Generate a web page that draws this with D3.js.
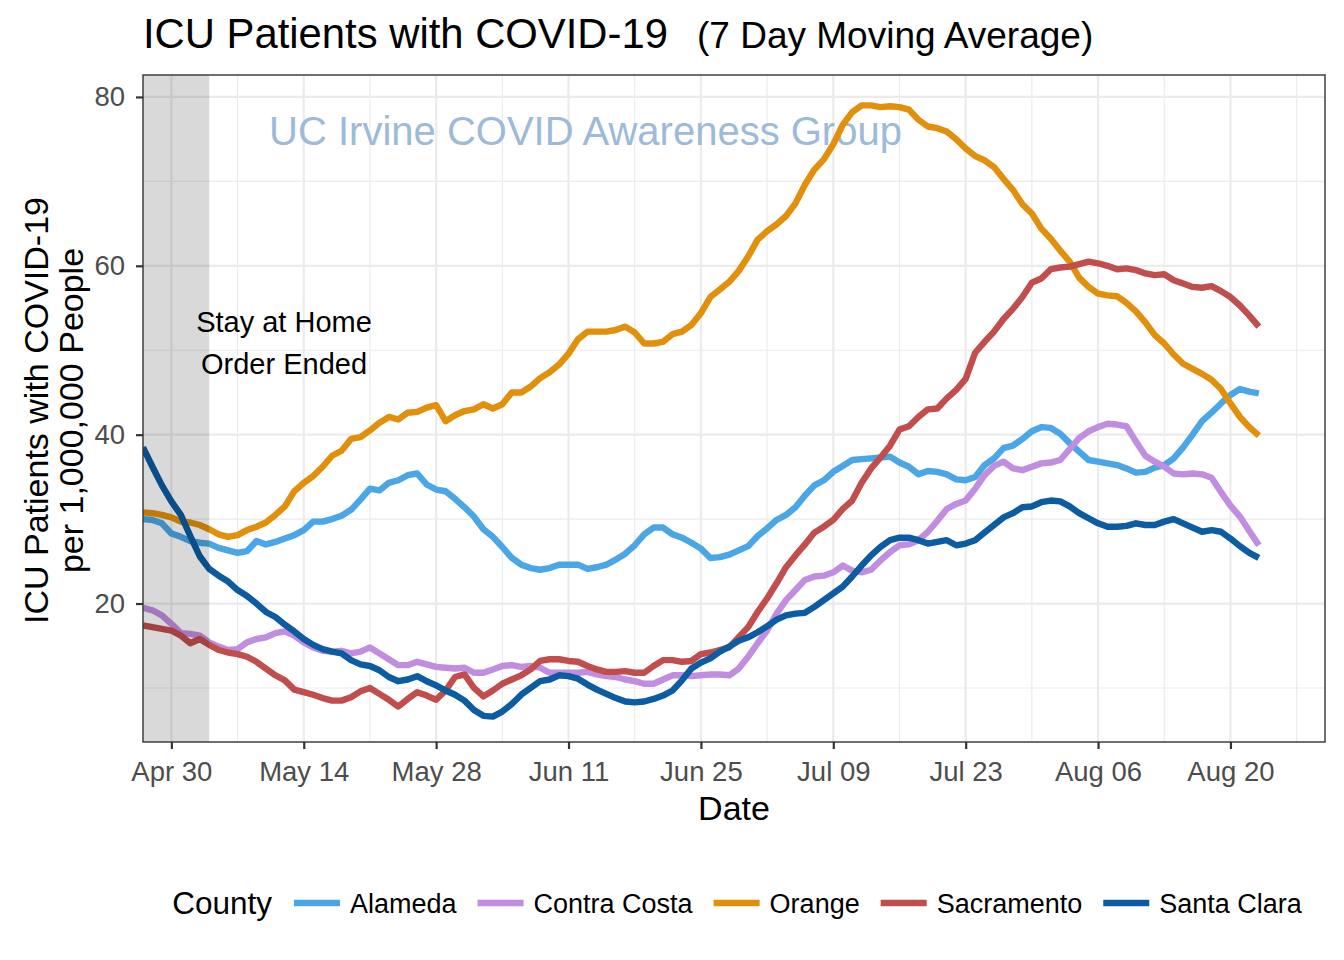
<!DOCTYPE html>
<html><head><meta charset="utf-8">
<script src="https://cdn.jsdelivr.net/npm/d3@7"></script>
<style>
body{margin:0;background:#fff}
svg{display:block}
text{font-family:"Liberation Sans",Arial,Helvetica,sans-serif}
</style>
</head><body>
<svg id="chart" width="1344" height="960"></svg>
<script>
// ---------------- data ----------------
const startDate = "2020-04-27";           // first day of every series (daily values)
const counties = ["Alameda", "Contra Costa", "Orange", "Sacramento", "Santa Clara"];
const countyColors = ["#4aa6e6", "#c08de0", "#e2900c", "#c14d4d", "#0b5ca2"];

const alameda = [30.0,29.9,29.5,28.3,27.9,27.4,27.2,27.1,26.6,26.3,26.0,26.2,27.4,27.0,27.3,27.7,28.1,28.7,29.7,29.7,
  30.0,30.4,31.1,32.3,33.6,33.4,34.3,34.6,35.2,35.4,34.1,33.5,33.3,32.4,31.4,30.3,28.8,27.9,26.7,25.4,
  24.6,24.2,24.0,24.2,24.6,24.6,24.6,24.1,24.3,24.6,25.2,25.9,26.9,28.2,29.0,29.0,28.2,27.8,27.2,26.5,
  25.4,25.5,25.8,26.3,26.8,28.0,28.9,29.9,30.5,31.4,32.8,34.0,34.6,35.6,36.3,37.0,37.1,37.2,37.3,37.4,
  36.7,36.2,35.3,35.7,35.6,35.3,34.7,34.6,35.0,36.4,37.2,38.4,38.7,39.5,40.4,40.9,40.8,40.1,39.0,38.0,
  37.0,36.8,36.6,36.4,36.0,35.5,35.6,36.1,36.4,37.2,38.5,40.0,41.6,42.6,43.7,44.7,45.4,45.1,44.9];

const contraCosta = [19.5,19.2,18.6,17.6,16.5,16.4,16.2,15.4,14.9,14.5,14.6,15.4,15.8,16.0,16.5,16.7,16.2,15.4,14.8,14.4,
  14.3,14.4,14.1,14.3,14.8,14.1,13.4,12.7,12.7,13.1,12.8,12.5,12.4,12.3,12.4,11.8,11.8,12.2,12.6,12.7,
  12.5,12.6,12.4,11.8,11.8,11.8,11.8,11.9,11.6,11.4,11.3,11.0,10.8,10.5,10.5,11.0,11.5,11.5,11.4,11.5,
  11.6,11.6,11.5,12.3,13.7,15.3,16.8,18.8,20.4,21.6,22.8,23.2,23.3,23.7,24.5,23.9,23.7,24.0,25.1,26.1,
  26.9,27.0,27.5,28.5,29.8,31.2,31.8,32.2,33.6,35.2,36.3,36.8,36.0,35.8,36.2,36.6,36.7,37.0,38.3,39.6,
  40.4,40.9,41.3,41.2,41.0,39.2,37.5,36.8,36.2,35.4,35.3,35.4,35.3,34.9,33.2,31.6,30.3,28.6,26.9];

const orange = [30.8,30.7,30.5,30.2,29.7,29.6,29.3,28.8,28.2,27.9,28.1,28.7,29.1,29.6,30.5,31.5,33.3,34.3,35.1,36.2,
  37.5,38.1,39.5,39.7,40.5,41.4,42.1,41.8,42.6,42.7,43.2,43.5,41.6,42.3,42.8,43.0,43.6,43.1,43.6,45.0,
  45.0,45.7,46.7,47.4,48.3,49.6,51.3,52.2,52.2,52.2,52.4,52.8,52.1,50.8,50.8,51.0,51.9,52.2,53.0,54.4,
  56.3,57.2,58.1,59.4,61.1,63.1,64.1,64.9,65.9,67.4,69.6,71.4,72.6,74.4,76.7,78.2,79.0,79.0,78.8,78.9,
  78.8,78.5,77.3,76.5,76.3,75.9,75.0,73.9,73.0,72.5,71.7,70.3,69.0,67.3,66.2,64.4,63.2,61.8,60.5,58.6,
  57.5,56.7,56.5,56.4,55.6,54.6,53.3,51.8,50.8,49.5,48.4,47.8,47.2,46.5,45.4,43.7,42.1,40.9,39.9];

const sacramento = [17.4,17.2,17.0,16.8,16.2,15.3,15.8,15.1,14.5,14.2,14.0,13.7,13.1,12.3,11.5,10.9,9.8,9.5,9.2,8.8,
  8.5,8.5,8.9,9.6,10.0,9.3,8.6,7.8,8.7,9.5,9.1,8.6,9.7,11.3,11.6,10.0,9.0,9.7,10.5,11.0,
  11.5,12.2,13.2,13.4,13.4,13.2,13.1,12.6,12.2,11.9,11.9,12.0,11.8,11.8,12.6,13.3,13.3,13.1,13.2,14.0,
  14.2,14.5,14.8,16.0,17.2,19.0,20.6,22.4,24.3,25.7,27.0,28.4,29.1,29.9,31.2,32.2,34.3,36.0,37.3,38.7,
  40.6,41.0,42.1,43.0,43.1,44.3,45.3,46.6,49.7,51.0,52.2,53.7,54.9,56.3,58.0,58.5,59.6,59.8,59.9,60.2,
  60.5,60.3,60.0,59.6,59.7,59.5,59.1,58.9,59.0,58.3,57.9,57.5,57.4,57.6,57.0,56.3,55.3,54.1,52.8];

const santaClara = [38.5,36.2,34.0,32.1,30.5,28.0,25.6,24.1,23.3,22.6,21.6,20.9,20.0,19.0,18.4,17.5,16.7,15.8,15.1,14.6,
  14.3,14.1,13.3,12.8,12.6,12.1,11.3,10.8,11.0,11.4,10.8,10.3,9.7,9.2,8.5,7.4,6.7,6.6,7.2,8.1,
  9.2,10.0,10.8,11.0,11.5,11.4,11.1,10.4,9.8,9.3,8.8,8.4,8.3,8.4,8.7,9.1,9.7,10.9,12.3,13.0,
  13.5,14.3,14.9,15.6,16.0,16.6,17.3,18.1,18.6,18.8,18.9,19.6,20.4,21.2,22.0,23.2,24.5,25.7,26.7,27.5,
  27.8,27.8,27.5,27.1,27.3,27.5,26.9,27.1,27.5,28.4,29.3,30.2,30.7,31.4,31.5,32.0,32.2,32.1,31.5,30.7,
  30.1,29.5,29.1,29.1,29.2,29.5,29.3,29.3,29.7,30.0,29.5,29.0,28.5,28.7,28.5,27.7,26.8,26.0,25.4];

const seriesValues = [alameda, contraCosta, orange, sacramento, santaClara];

const xMajorTicks = ["2020-04-30","2020-05-14","2020-05-28","2020-06-11","2020-06-25","2020-07-09","2020-07-23","2020-08-06","2020-08-20"];
const xMinorTicks = ["2020-05-07","2020-05-21","2020-06-04","2020-06-18","2020-07-02","2020-07-16","2020-07-30","2020-08-13","2020-08-27"];
const yMajorTicks = [20, 40, 60, 80];
const yMinorTicks = [10, 30, 50, 70];
const xDomain = ["2020-04-27", "2020-08-30"];
const yDomain = [3.6, 82.6];
const shadeRange = ["2020-04-27", "2020-05-04"];   // stay-at-home shading

const titleText = "ICU Patients with COVID-19";
const subtitleText = "(7 Day Moving Average)";
const watermarkText = "UC Irvine COVID Awareness Group";
const annotationLines = ["Stay at Home", "Order Ended"];
const yTitleLines = ["ICU Patients with COVID-19", "per 1,000,000 People"];

// ---------------- layout ----------------
const P = {left: 143, right: 1325, top: 75, bottom: 742};
const parse = d3.utcParse("%Y-%m-%d");
const svg = d3.select("#chart");

const x = d3.scaleUtc().domain(xDomain.map(parse)).range([P.left, P.right]);
const y = d3.scaleLinear().domain(yDomain).range([P.bottom, P.top]);

const start = parse(startDate);
const series = counties.map((name, i) => ({
  name, color: countyColors[i],
  values: seriesValues[i].map((v, j) => ({date: d3.utcDay.offset(start, j), value: v}))
}));

// panel background
svg.append("rect").attr("x", P.left).attr("y", P.top)
  .attr("width", P.right - P.left).attr("height", P.bottom - P.top).attr("fill", "#fff");

const grid = svg.append("g");
grid.selectAll(".gxm").data(xMinorTicks.map(parse)).join("line")
  .attr("x1", d => x(d)).attr("x2", d => x(d)).attr("y1", P.top).attr("y2", P.bottom)
  .attr("stroke", "#ebebeb").attr("stroke-width", 1.1);
grid.selectAll(".gym").data(yMinorTicks).join("line")
  .attr("y1", d => y(d)).attr("y2", d => y(d)).attr("x1", P.left).attr("x2", P.right)
  .attr("stroke", "#ebebeb").attr("stroke-width", 1.1);
grid.selectAll(".gxM").data(xMajorTicks.map(parse)).join("line")
  .attr("x1", d => x(d)).attr("x2", d => x(d)).attr("y1", P.top).attr("y2", P.bottom)
  .attr("stroke", "#ebebeb").attr("stroke-width", 2.2);
grid.selectAll(".gyM").data(yMajorTicks).join("line")
  .attr("y1", d => y(d)).attr("y2", d => y(d)).attr("x1", P.left).attr("x2", P.right)
  .attr("stroke", "#ebebeb").attr("stroke-width", 2.2);

// watermark
svg.append("text").attr("x", 585.5).attr("y", 145).attr("text-anchor", "middle")
  .attr("font-size", 40).attr("fill", "#9dbad8").text(watermarkText);

// lines
const line = d3.line().x(d => x(d.date)).y(d => y(d.value));
svg.append("clipPath").attr("id", "clip").append("rect")
  .attr("x", P.left).attr("y", P.top).attr("width", P.right - P.left).attr("height", P.bottom - P.top);
svg.append("g").attr("clip-path", "url(#clip)").selectAll("path").data(series).join("path")
  .attr("d", d => line(d.values)).attr("fill", "none").attr("stroke", d => d.color)
  .attr("stroke-width", 6.4).attr("stroke-linejoin", "round").attr("stroke-linecap", "butt");

// shaded rectangle (drawn on top, semi-transparent)
const s0 = parse(shadeRange[0]), s1 = parse(shadeRange[1]);
svg.append("rect").attr("x", x(s0)).attr("y", P.top).attr("width", x(s1) - x(s0))
  .attr("height", P.bottom - P.top).attr("fill", "#000").attr("fill-opacity", 0.15);

// annotation
svg.append("text").attr("text-anchor", "middle").attr("font-size", 29).attr("fill", "#000")
  .selectAll("tspan").data(annotationLines).join("tspan")
  .attr("x", 284).attr("y", (d, i) => [332, 374][i]).text(d => d);

// panel border
svg.append("rect").attr("x", P.left).attr("y", P.top)
  .attr("width", P.right - P.left).attr("height", P.bottom - P.top)
  .attr("fill", "none").attr("stroke", "#333").attr("stroke-width", 1.4);

// axes
const xAxis = d3.axisBottom(x).tickValues(xMajorTicks.map(parse))
  .tickFormat(d3.utcFormat("%b %d")).tickSizeOuter(0).tickSize(7).tickPadding(6);
const gx = svg.append("g").attr("transform", `translate(0,${P.bottom})`).call(xAxis);
gx.select(".domain").remove();
gx.selectAll("line").attr("stroke", "#333").attr("stroke-width", 2.2);
gx.selectAll("text").attr("font-size", 27.5).attr("fill", "#4d4d4d")
  .attr("font-family", "'Liberation Sans',Arial,sans-serif").attr("dy", "0.95em");

const yAxis = d3.axisLeft(y).tickValues(yMajorTicks).tickSizeOuter(0).tickSize(7).tickPadding(11);
const gy = svg.append("g").attr("transform", `translate(${P.left},0)`).call(yAxis);
gy.select(".domain").remove();
gy.selectAll("line").attr("stroke", "#333").attr("stroke-width", 2.2);
gy.selectAll("text").attr("font-size", 27.5).attr("fill", "#4d4d4d")
  .attr("font-family", "'Liberation Sans',Arial,sans-serif");

// axis titles
svg.append("text").attr("x", (P.left + P.right) / 2).attr("y", 820).attr("text-anchor", "middle")
  .attr("font-size", 34).attr("fill", "#000").text("Date");
const yt = svg.append("text").attr("transform", `translate(0,${(P.top + P.bottom) / 2 + 2}) rotate(-90)`)
  .attr("text-anchor", "middle").attr("font-size", 34).attr("fill", "#000");
yt.selectAll("tspan").data(yTitleLines).join("tspan")
  .attr("x", 0).attr("y", (d, i) => [48, 83][i]).text(d => d);

// title
svg.append("text").attr("x", 143).attr("y", 48).attr("font-size", 41.8).attr("fill", "#000").text(titleText);
svg.append("text").attr("x", 697).attr("y", 48).attr("font-size", 37).attr("fill", "#000").text(subtitleText);

// legend
const lg = svg.append("g");
const legendY = 903;
const lt = lg.append("text").attr("x", 0).attr("y", legendY + 11).attr("font-size", 31.5).attr("fill", "#000").text("County");
let cx = lt.node().getComputedTextLength() + 22;
series.forEach(s => {
  lg.append("line").attr("x1", cx).attr("x2", cx + 46).attr("y1", legendY).attr("y2", legendY)
    .attr("stroke", s.color).attr("stroke-width", 6.4);
  cx += 56;
  const t = lg.append("text").attr("x", cx).attr("y", legendY + 10).attr("font-size", 27).attr("fill", "#000").text(s.name);
  cx += t.node().getComputedTextLength() + 21;
});
const legendWidth = cx - 21;
lg.attr("transform", `translate(${737 - legendWidth / 2},0)`);
</script>
</body></html>
